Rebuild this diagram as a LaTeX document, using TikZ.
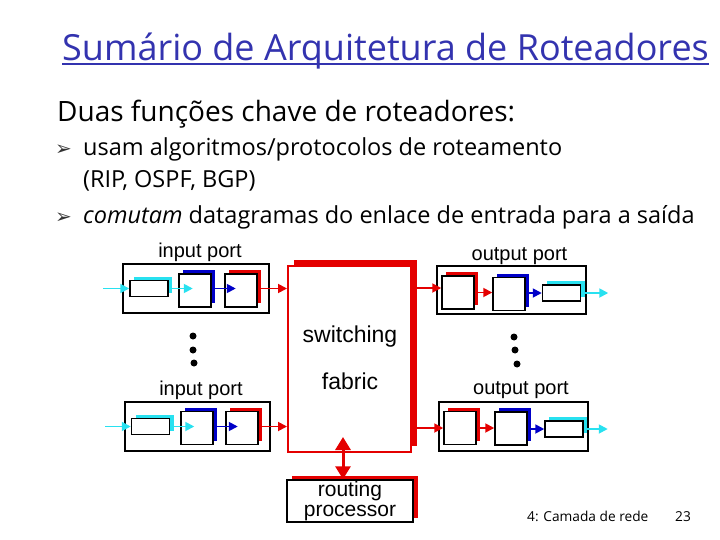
\documentclass[tikz,border=0pt]{standalone}
\usepackage{fontspec}
\setmainfont{Open Sans}
\newfontfamily\diafont{Liberation Sans}
\newfontfamily\symfont{DejaVu Sans}
\usetikzlibrary{shadows,arrows.meta}
\definecolor{titleblue}{RGB}{51,51,175}
\definecolor{pcyan}{RGB}{40,225,240}
\definecolor{pblue}{RGB}{0,0,200}
\definecolor{pred}{RGB}{228,0,0}
\begin{document}
\begin{tikzpicture}[x=1pt,y=-1pt,
  box/.style={draw=black, line width=1.5pt, fill=white, inner sep=0pt, minimum width=32pt, minimum height=33pt},
  smallbox/.style={box, minimum width=38pt, minimum height=16pt},
  port/.style={draw=black, line width=1.6pt, inner sep=0pt},
  shc/.style={general shadow={shadow xshift=4pt, shadow yshift=4pt, fill=pcyan}},
  shb/.style={general shadow={shadow xshift=4pt, shadow yshift=4pt, fill=pblue}},
  shr/.style={general shadow={shadow xshift=4pt, shadow yshift=4pt, fill=pred}},
  lbl/.style={font=\diafont\fontsize{20}{20}\selectfont, inner sep=0pt},
  arr/.style={line width=1.8pt, -{Triangle[length=9pt,width=9pt]}},
  dotn/.style={circle, fill=black, inner sep=0pt, minimum size=7pt},
  txt/.style={inner sep=0pt, anchor=base west},
]
\useasboundingbox (0,0) rectangle (720,540);

% ---------- text ----------
\node[txt, text=titleblue, font=\fontsize{36}{36}\selectfont] (title) at (62,61) {Sumário de Arquitetura de Roteadores};
\draw[titleblue, line width=1.5pt] (title.base west) ++(0,3) coordinate (ul1) -- (title.base east |- ul1);
\node[txt, font=\fontsize{28}{28}\selectfont] (t1) at (57,122) {Duas funções chave de roteadores:};
\node[txt, font=\symfont\fontsize{20}{20}\selectfont, text=black!80] (b1) at (55,156) {➢};
\node[txt, font=\fontsize{23.5}{23.5}\selectfont] (t2) at (83,156) {usam algoritmos/protocolos de roteamento};
\node[txt, font=\fontsize{23.5}{23.5}\selectfont] (t3) at (83,188) {(RIP, OSPF, BGP)};
\node[txt, font=\symfont\fontsize{20}{20}\selectfont, text=black!80] (b2) at (55,223) {➢};
\node[txt, font=\fontsize{23.5}{23.5}\selectfont] (t4) at (83,223) {\textit{comutam} datagramas do enlace de entrada para a saída};
\node[txt, font=\fontsize{13.7}{13.7}\selectfont] (f1) at (527,521) {4: Camada de rede};
\node[txt, font=\fontsize{13.7}{13.7}\selectfont] (f2) at (675,521) {23};

% ---------- switching fabric ----------
\node[draw=pred, line width=2pt, fill=white, inner sep=0pt, minimum width=123pt, minimum height=186pt,
      general shadow={shadow xshift=6pt, shadow yshift=6pt, fill=pred}] (fab) at (349.5,359) {};
\node[lbl, font=\diafont\fontsize{23}{23}\selectfont] (fabt1) at (350,337) {switching};
\node[lbl, font=\diafont\fontsize{23}{23}\selectfont] (fabt2) at (350,381) {fabric};

% ---------- routing processor ----------
\node[draw=black, line width=1.5pt, fill=white, inner sep=0pt, minimum width=126pt, minimum height=42pt,
      general shadow={shadow xshift=5pt, shadow yshift=4pt, fill=pred},
      align=center, font=\diafont\fontsize{21}{20.5}\selectfont] (rp) at (350,501) {routing\\processor};
\coordinate (fa) at (343,437);
\draw[pred, line width=3pt, {Triangle[length=13pt,width=15pt]}-{Triangle[length=13pt,width=15pt]}] (fa) -- (fa |- rp.north);

% ---------- top input port ----------
\node[port, minimum width=146pt, minimum height=49pt] (ip1) at (196,288.5) {};
\node[lbl] (ip1l) at (200,252) {input port};
\node[smallbox, shc] (ip1a) at (149,288.5) {};
\node[box, shb] (ip1b) at (195,290.5) {};
\node[box, shr] (ip1c) at (241,290.5) {};
\coordinate (ip1in) at (103,288.5);
\draw[arr, pcyan] (ip1in) -- (ip1a.west);
\draw[arr, pcyan] (ip1a.east) -- ++(24,0);
\draw[arr, pblue] (ip1b.east |- ip1a.east) -- ++(24,0);
\draw[arr, pred] (ip1c.east |- ip1a.east) -- (ip1a.east -| fab.west);

% ---------- bottom input port ----------
\node[port, minimum width=145pt, minimum height=49pt] (ip2) at (197.5,426.5) {};
\node[lbl] (ip2l) at (201,390) {input port};
\node[smallbox, shc] (ip2a) at (150.5,426.5) {};
\node[box, shb] (ip2b) at (197,428) {};
\node[box, shr] (ip2c) at (242,428) {};
\coordinate (ip2in) at (105,426.5);
\draw[arr, pcyan] (ip2in) -- (ip2a.west);
\draw[arr, pcyan] (ip2a.east) -- ++(24,0);
\draw[arr, pblue] (ip2b.east |- ip2a.east) -- ++(24,0);
\draw[arr, pred] (ip2c.east |- ip2a.east) -- (ip2a.east -| fab.west);

% ---------- top output port ----------
\node[port, minimum width=149pt, minimum height=48pt] (op1) at (511.5,290) {};
\node[lbl] (op1l) at (519.5,256) {output port};
\node[box, shr] (op1a) at (458,292.5) {};
\node[box, shb] (op1b) at (509,294) {};
\node[smallbox, shc] (op1c) at (561.5,293) {};
\draw[arr, pred] (fab.east |- 0,288) -- (op1a.west |- 0,288);
\draw[arr, pred] (op1a.east) -- (op1b.west |- op1a.east);
\draw[arr, pblue] (op1b.east |- op1c.west) -- (op1c.west);
\draw[arr, pcyan] (op1c.east) -- ++(27,0);

% ---------- bottom output port ----------
\node[port, minimum width=149pt, minimum height=49pt] (op2) at (513.5,426.5) {};
\node[lbl] (op2l) at (521,390) {output port};
\node[box, shr] (op2a) at (460,428) {};
\node[box, shb] (op2b) at (511,428.5) {};
\node[smallbox, shc] (op2c) at (564,429) {};
\draw[arr, pred] (fab.east |- op2a.west) -- (op2a.west);
\draw[arr, pred] (op2a.east) -- (op2b.west |- op2a.east);
\draw[arr, pblue] (op2b.east |- op2c.west) -- (op2c.west);
\draw[arr, pcyan] (op2c.east) -- ++(24,0);

% ---------- dots ----------
\node[dotn] (dl1) at (193,336) {};
\node[dotn] (dl2) at (193,350) {};
\node[dotn] (dl3) at (194,363) {};
\node[dotn] (dr1) at (514,337) {};
\node[dotn] (dr2) at (515,350) {};
\node[dotn] (dr3) at (517,364) {};
\end{tikzpicture}
\end{document}
